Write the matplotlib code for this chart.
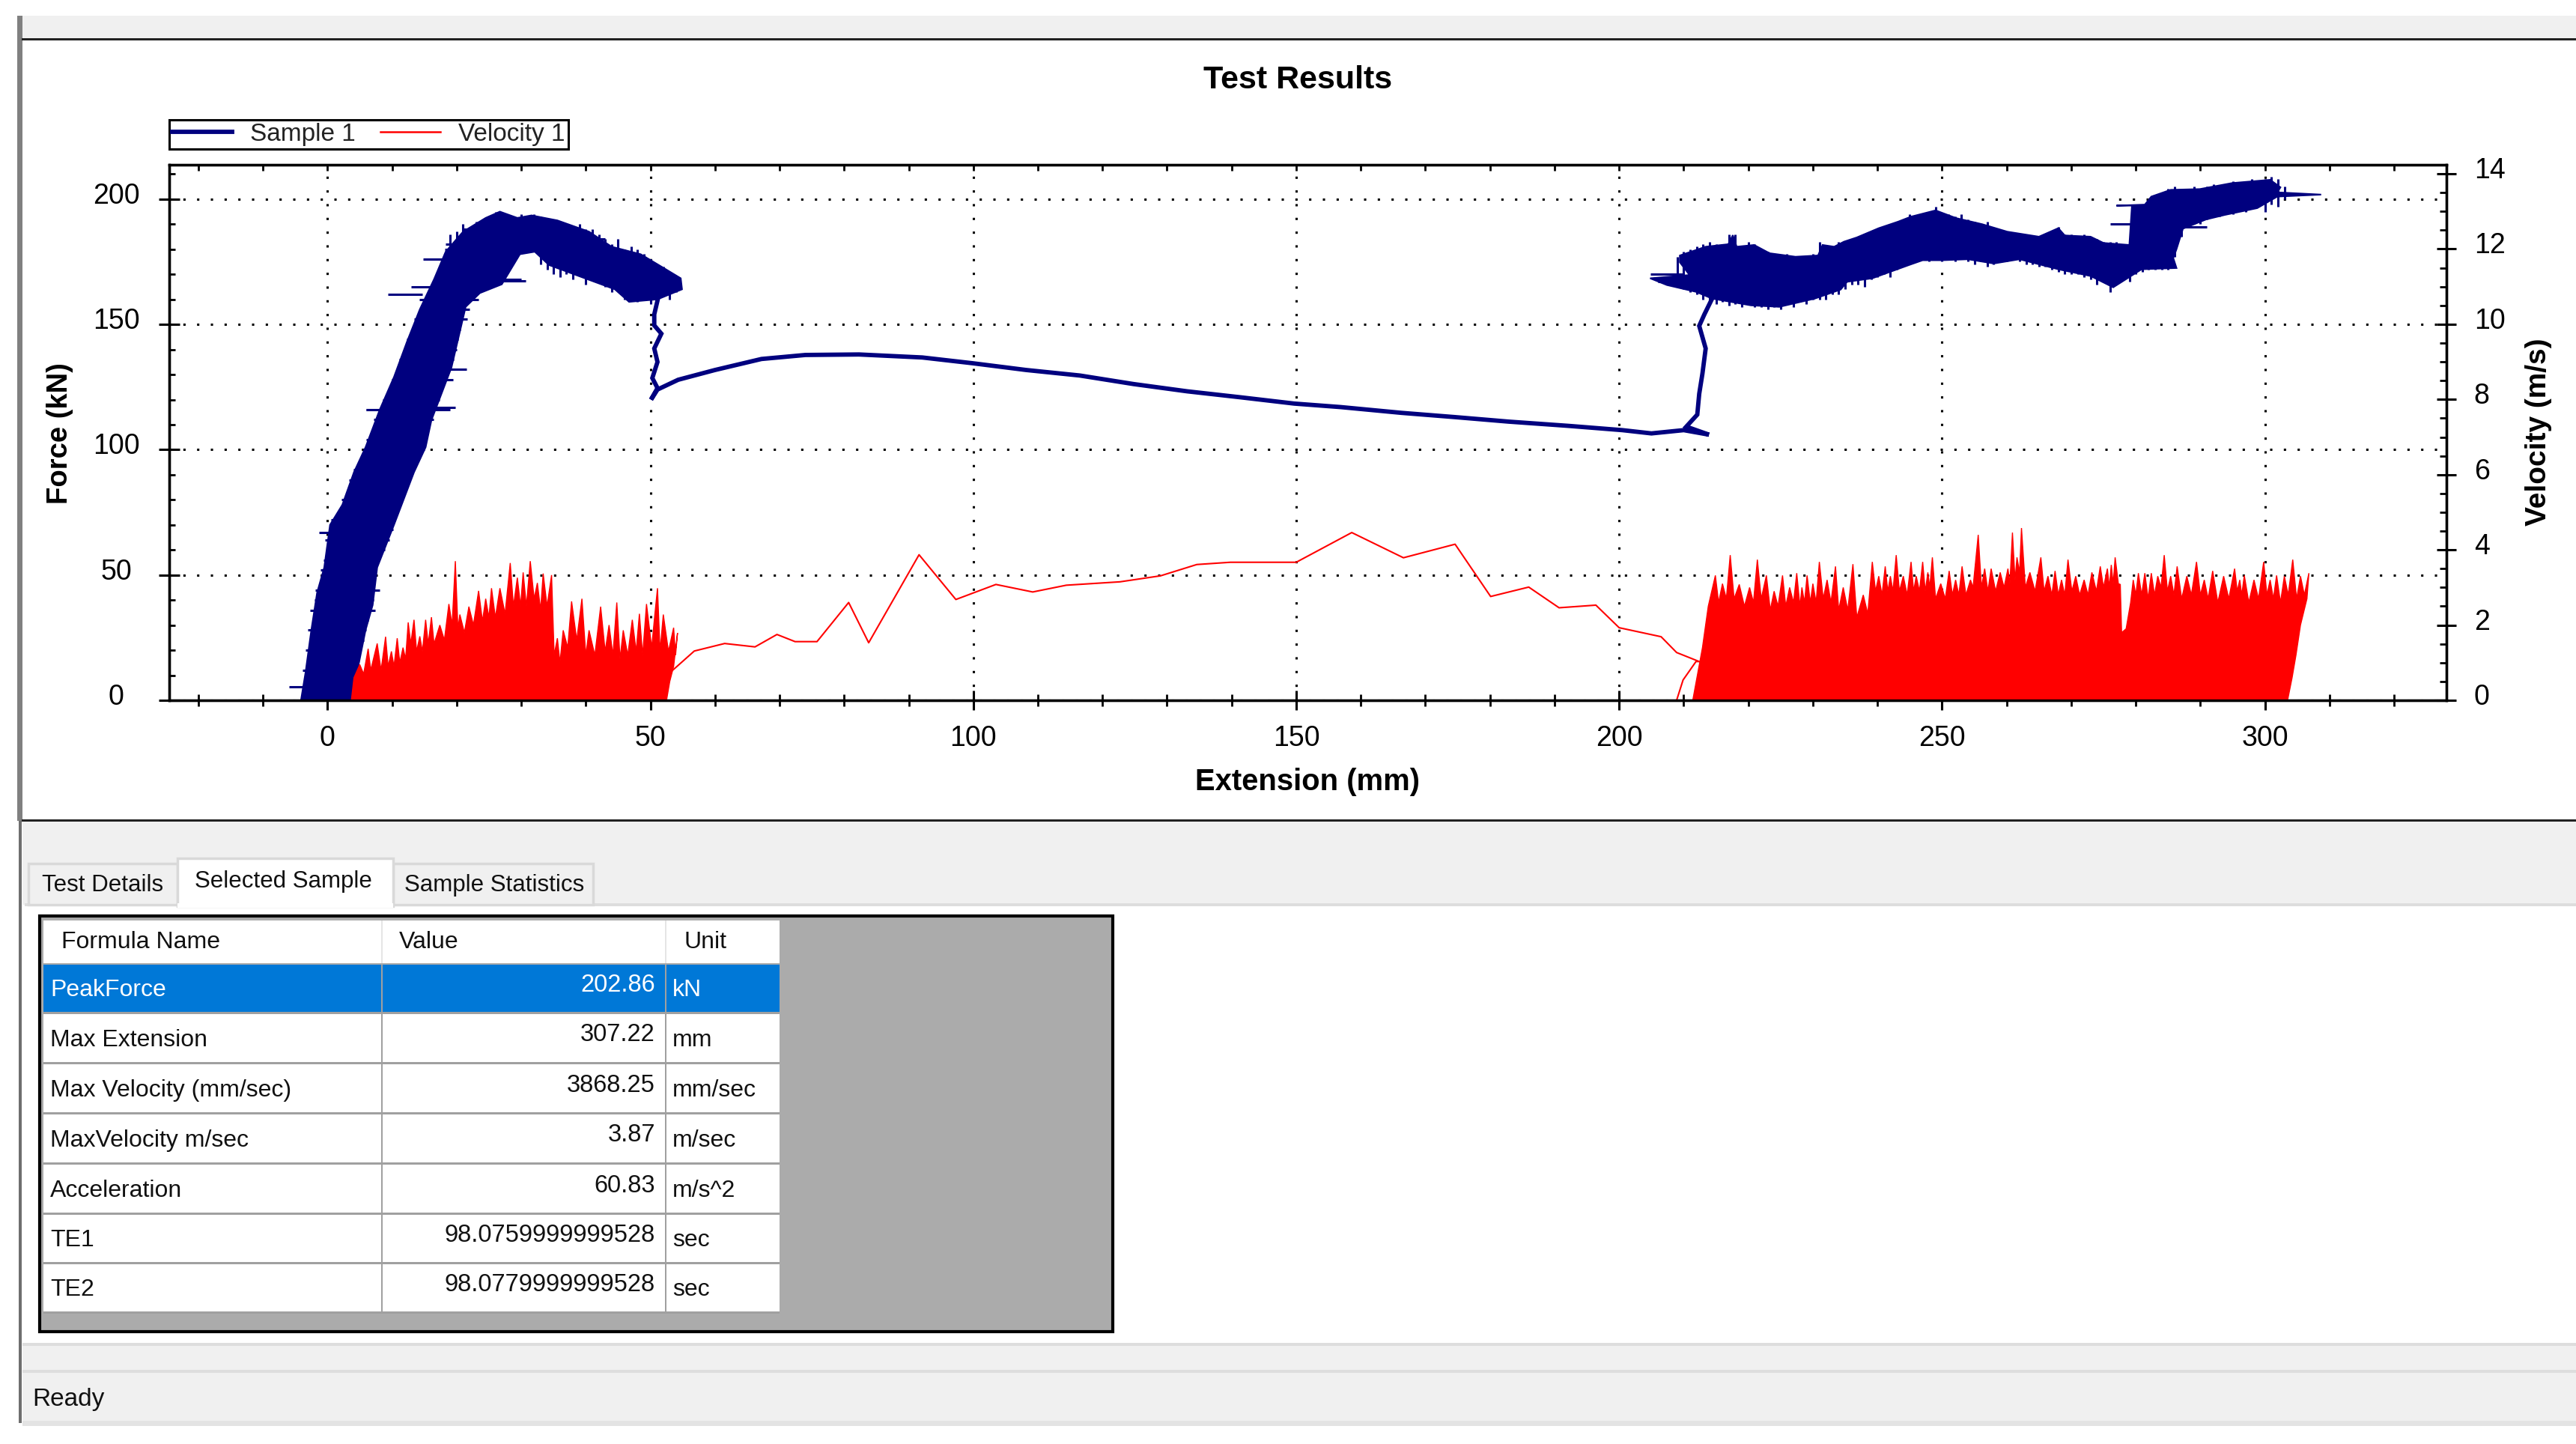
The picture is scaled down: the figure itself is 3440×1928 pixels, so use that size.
import matplotlib
matplotlib.use("Agg")
import matplotlib.pyplot as plt
from matplotlib.lines import Line2D
from matplotlib.patches import Rectangle
from matplotlib.transforms import ScaledTranslation

plt.rcParams["font.family"] = ["Liberation Sans", "DejaVu Sans"]

W, H = 3440, 1928
NAVY = "#00007F"
RED = "#FF0000"

# force: the thick noisy regions, outline
rise_x = [-4.1, -3.4, -2.5, -1.6, -0.5, 0.4, 2.3, 4.1, 5.9, 8.1, 10.3, 12.3, 14.3, 16.5, 18.3, 21.0, 24.5, 26.7,
          29.4, 31.6, 35.6, 40.5, 44.0, 48.5, 52.0, 54.7, 54.9, 51.1, 46.7, 44.5, 38.7, 34.3, 32.1, 29.8, 27.0,
          23.6, 21.4, 19.2, 16.1, 15.2, 13.4, 10.3, 7.7, 7.0, 5.9, 3.7]
rise_f = [0, 11, 28, 43, 53, 70, 78, 91, 101, 116, 129, 143, 156, 168, 179, 187, 192.5, 195,
          192.5, 193.5, 191.5, 187, 181, 178, 172.6, 168.4, 164, 160, 159, 164, 169.5, 173.7, 179, 178, 166,
          162.5, 157, 132.8, 111.8, 101, 91, 70, 53, 38, 28, 0]
plateau_x = [204.8, 210.9, 209.4, 209.4, 213.4, 216.9, 217.6, 218.2, 220.9, 223.3, 227.3, 230.8, 231.5, 233.3, 234.8,
             236.8, 240.2, 243.2, 245.2, 249.0, 252.2, 256.2, 260.1, 265.0, 268.0, 269.0, 273.0, 275.0, 279.0, 279.4,
             277.0, 281.4, 282.4, 285.4, 289.9, 294.9, 300.8, 302.4, 301.9, 308.7, 301.9, 298.8, 293.8, 290.9, 287.3,
             286.3, 285.8, 286.3, 280.9, 276.5, 273.0, 268.0, 262.0, 258.0, 254.0, 250.0, 247.0, 245.0, 239.2, 235.3,
             234.3, 230.3, 224.8, 220.4, 214.4, 211.9, 207.4]
plateau_f = [168.4, 169.7, 174.8, 177.5, 181, 182, 185.6, 181, 181.7, 178.4, 177, 177.5, 181.7, 181, 183,
             184.7, 188.4, 191, 193, 195.5, 192.4, 190, 187, 185, 188.4, 185.5, 185, 182.5, 181.7, 197.4,
             197.4, 197.8, 201, 203.7, 204, 206.4, 207.7, 204.7, 202.7, 201.8, 201, 196.4, 193.7, 191.9, 188.2,
             180, 176.5, 172.5, 172, 164.8, 169.3, 172, 176, 174.3, 176, 175.6, 175.6, 173.8, 168.4, 167,
             163.9, 160.3, 157, 157.6, 160.3, 163, 165.7]

# rough edges of the rising part: extent at each force level
row_f = [4, 8, 12, 16, 20, 24, 28, 32, 36, 40, 44, 48, 52, 56, 60, 64, 68, 72, 76, 80, 84, 88, 92, 96, 100, 104, 108,
         112, 116, 120, 124, 128, 132, 136, 140, 144, 148, 152, 156, 160, 164, 168, 172, 176, 180]
row_left = [-4.0, -3.6, -3.9, -3.1, -3.4, -2.8, -3.0, -2.4, -2.7, -2.0, -1.9, -1.0, -1.1, -0.6, -0.2, -0.4, 0.3, 0.6,
            1.7, 2.2, 3.2, 3.3, 4.0, 5.2, 5.5, 6.0, 7.0, 7.2, 6.0, 8.6, 9.6, 9.9, 10.9, 11.1, 12.2, 12.2, 13.2, 13.4,
            14.4, 14.2, 15.9, 17.0, 17.8, 14.9, 18.2]
row_right = [4.2, 4.4, 4.6, 4.9, 5.0, 5.6, 6.0, 6.3, 7.4, 7.2, 8.1, 7.4, 7.0, 7.9, 8.9, 9.6, 10.2, 10.5,
             10.4, 11.3, 11.9, 12.7, 13.0, 13.2, 15.0, 14.8, 15.0, 16.4, 19.0, 17.4, 17.6, 19.4, 19.7, 19.6, 20.0, 20.2,
             20.6, 21.7, 22.0, 23.4, 22.9, 30.0, 26.0, 28.7, 30.2]

# rough edges of the arch: extent at each extension
arch_x = [19, 20, 21, 22, 23, 24, 25, 26, 27, 28, 29, 30, 31, 32, 33, 34, 35, 36, 37, 38, 39, 40, 41, 42, 43, 44, 45,
          46, 47, 48, 49, 50, 51, 52, 53, 54]
arch_top = [186, 187, 190, 188, 191, 192, 192, 195, 194, 192, 192, 194, 192, 194, 193, 191, 192, 191, 188, 189, 190,
            188, 188, 186, 184, 182, 184, 180, 181, 180, 178, 176, 172, 173, 170, 167]
arch_low = [178, 178, 178, 178, 178, 178, 178, 178, 178, 180, 180, 180, 180, 180, 174, 172, 170, 169, 170, 168, 170,
            166, 168, 170, 165, 163, 166, 160, 162, 159, 164, 158, 159, 162, 160, 163]

# rough edges of the second plateau
plat_x = [209, 210, 211, 212, 213, 214, 215, 216, 217, 218, 219, 220, 221, 222, 223, 224, 225, 226, 227, 228, 229,
          230, 231, 232, 233, 234, 235, 236, 237, 238, 239, 240, 241, 242, 243, 244, 245, 246, 247, 248, 249, 250,
          251, 252, 253, 254, 255, 256, 257, 258, 259, 260, 261, 262, 263, 264, 265, 266, 267, 268, 269, 270, 271,
          272, 273, 274, 275, 276, 277, 278, 279, 280, 281, 282, 283, 284, 285, 286, 287, 288, 289, 290, 291, 292,
          293, 294, 295, 296, 297, 298, 299, 300, 301, 302, 303]
plat_top = [177, 179, 180, 181, 182, 183, 182, 182, 186, 186, 181, 183, 182, 180, 179, 178, 177, 178, 177, 177, 176,
            178, 183, 180, 181, 183, 182, 184, 185, 186, 186, 188, 189, 189, 191, 192, 194, 192, 194, 193, 197, 193,
            194, 193, 194, 192, 191, 190, 191, 188, 188, 187, 186, 186, 186, 185, 184, 186, 186, 189, 186, 186, 185,
            186, 185, 184, 183, 183, 183, 182, 182, 198, 198, 199, 201, 202, 204, 205, 203, 204, 205, 204, 205, 206,
            205, 206, 207, 206, 207, 208, 207, 208, 209, 208, 205]
plat_low = [165, 164, 163, 162, 160, 159, 158, 159, 157.5, 158, 157, 158, 157, 157, 156, 157, 156, 158, 157, 159, 158,
            160, 160, 160, 162, 162, 164, 166, 166, 165, 168, 169, 170, 169, 172, 173, 174, 175, 176, 175, 176, 175,
            176, 175, 176, 175, 174, 175, 173, 174, 175, 175, 176, 175, 174, 174, 173, 173, 172, 171, 170, 170, 170,
            169, 168, 166, 169, 163, 166, 168, 167, 170, 171, 172, 172, 172, 172, 177, 185, 190, 190, 190, 192, 193,
            193, 194, 194, 196, 195, 196, 197, 195, 198, 197, 200]

# short horizontal spikes sticking out of the noisy regions
spur_f = [162, 165, 176, 182, 188, 116, 117, 132, 67, 5.5, 167.4, 184, 167, 170, 190, 189]
spur_x0 = [9.4, 13.0, 14.8, 18.3, 21.0, 6.0, 15.0, 19.0, -1.3, -6.0, 25.4, 40.5, 206.0, 204.8, 276.0, 287.0]
spur_x1 = [14.7, 17.4, 19.2, 21.0, 24.0, 9.0, 19.8, 21.5, 1.5, -3.5, 30.7, 43.0, 211.0, 210.0, 279.4, 291.0]

# force: the single trace between the noisy regions
force_x = [51.1, 50.6, 50.6, 51.7, 50.6, 51.1, 50.3, 51.1, 50.1, 51.1, 54.3, 60.0, 67.2, 74.0, 82.3, 92.1, 99.9,
           108.2, 116.5, 124.8, 133.1, 141.4, 149.7, 156.9, 166.3, 174.6, 182.9, 192.2, 200.5, 205.0, 210.0, 213.9,
           210.4, 212.1, 212.4, 212.9, 213.4, 212.4, 213.2, 214.4]
force_f = [159.5, 154, 149.6, 146.3, 140.4, 135, 128.6, 124.6, 120, 124, 127.9, 131.8, 136.2, 137.8, 138, 136.8, 134.5,
           131.8, 129.6, 126.2, 123.3, 120.9, 118.4, 117, 114.7, 113, 111.2, 109.5, 107.8, 106.5, 107.8, 106,
           109.2, 114, 122.3, 130.4, 140.4, 149.4, 154, 160.3]

# velocity: the single trace between the spiky regions
vel_x = [52.2, 53.0, 56.8, 61.5, 66.2, 69.6, 72.4, 75.8, 80.7, 83.8, 91.6, 97.3, 103.5, 109.2, 114.4, 122.7, 129.0,
         134.6, 139.8, 150.0, 158.6, 166.6, 174.6, 180.1, 186.0, 190.7, 196.4, 200.0, 206.5, 208.9, 212.4, 211.9,
         209.9, 208.9]
vel_v = [0, 0.73, 1.31, 1.51, 1.42, 1.75, 1.56, 1.56, 2.6, 1.53, 3.87, 2.68, 3.08, 2.88, 3.06, 3.15, 3.31,
         3.61, 3.67, 3.67, 4.46, 3.79, 4.15, 2.76, 3.01, 2.46, 2.53, 1.93, 1.69, 1.27, 1.03, 1.03,
         0.54, 0]

# velocity: saw-tooth outline of the two spiky regions
teeth_left_x = [3.7, 4.1, 5.0, 5.6, 6.3, 6.7, 7.7, 8.3, 9.0, 9.4, 9.9, 10.3, 10.8, 11.2, 11.7, 12.1, 12.5, 12.9, 13.4,
                13.8, 14.3, 14.7, 15.2, 15.6, 16.1, 16.5, 17.4, 18.1, 18.8, 19.3, 19.8, 20.2, 20.5, 21.2, 21.9, 22.6,
                23.4, 24.0, 24.5, 25.0, 25.4, 26.0, 26.7, 27.5, 28.3, 28.8, 29.4, 29.9, 30.3, 30.8, 31.4, 32.0, 32.5,
                33.0, 33.4, 34.0, 34.7, 35.1, 35.6, 36.0, 36.5, 37.2, 37.8, 38.6, 39.4, 40.0, 40.5, 41.4, 42.3, 43.0,
                43.6, 44.2, 44.8, 45.3, 45.8, 46.5, 47.2, 47.8, 48.3, 48.8, 49.4, 50.2, 50.7, 51.1, 51.5, 52.0, 52.8,
                53.6, 53.9, 54.2, 53.6, 53.0, 52.5]
teeth_left_v = [0, 0.6, 0.95, 0.7, 1.37, 0.8, 1.51, 0.8, 1.69, 0.9, 1.3, 0.9, 1.65, 1.0, 1.4, 1.1, 2.07, 1.5, 2.14,
                1.3, 1.7, 1.3, 2.14, 1.5, 2.21, 1.5, 2.0, 1.6, 2.56, 2.0, 3.7, 1.9, 2.28, 1.8, 2.49, 2.0,
                2.91, 2.1, 2.7, 2.2, 2.98, 2.2, 2.98, 2.3, 3.65, 2.5, 3.26, 2.5, 3.4, 2.5, 3.7, 2.7, 3.12,
                2.4, 3.37, 2.5, 3.33, 1.2, 1.65, 1.0, 1.86, 1.4, 2.63, 1.6, 2.7, 1.2, 1.86, 1.2, 2.49, 1.3,
                2.0, 1.2, 2.6, 1.1, 1.86, 1.2, 2.14, 1.3, 2.3, 1.2, 2.56, 1.4, 2.3, 2.98, 1.3, 2.28, 1.3,
                1.93, 1.2, 1.79, 0.9, 0.5, 0]
teeth_right_x = [211.4, 212.9, 213.8, 214.9, 215.4, 216.0, 216.6, 217.2, 217.8, 218.6, 219.4, 220.2, 220.8, 221.4, 222.0,
                 222.8, 223.4, 224.0, 224.6, 225.3, 225.8, 226.4, 227.0, 227.5, 228.0, 228.3, 228.7, 229.1, 229.6,
                 230.0, 230.5, 231.0, 231.6, 232.2, 232.8, 233.5, 234.0, 234.7, 235.4, 236.2, 236.8, 237.8, 238.5,
                 239.2, 239.7, 240.2, 240.7, 241.2, 241.6, 242.0, 242.4, 242.9, 243.4, 244.0, 244.6, 245.2, 245.6,
                 246.0, 246.5, 247.0, 247.4, 247.8, 248.1, 248.5, 249.0, 249.8, 250.5, 251.1, 251.6, 252.1, 252.6,
                 253.1, 253.7, 254.4, 254.8, 255.6, 256.1, 256.6, 257.1, 257.6, 258.3, 259.0, 259.6, 260.2, 260.5,
                 260.9, 261.3, 261.6, 262.0, 262.3, 262.9, 263.6, 264.4, 265.3, 265.8, 266.4, 267.0, 267.5, 268.0,
                 268.5, 269.0, 269.5, 270.1, 270.7, 271.3, 272.0, 272.6, 273.2, 273.9, 274.5, 275.0, 275.6, 275.9,
                 276.2, 276.5, 276.8, 277.3, 277.6, 277.8, 278.5, 279.2, 279.6, 280.0, 280.4, 280.9, 281.4, 281.9,
                 282.4, 282.9, 283.4, 283.9, 284.4, 284.9, 285.4, 285.9, 286.4, 287.1, 287.9, 288.6, 289.4, 290.0,
                 290.6, 291.2, 291.9, 292.7, 293.6, 294.4, 295.3, 295.7, 296.1, 296.4, 296.8, 297.5, 298.3, 299.0,
                 299.8, 300.3, 300.8, 301.3, 301.8, 302.4, 303.0, 303.6, 304.3, 304.9, 305.5, 306.1, 306.8, 306.5,
                 305.5, 304.8, 304.2, 303.5]
teeth_right_v = [0, 1.4, 2.5, 3.32, 2.6, 3.1, 2.7, 3.86, 2.7, 3.08, 2.5, 3.0, 2.6, 3.74, 2.7,
                 3.32, 2.4, 2.9, 2.5, 3.32, 2.5, 3.0, 2.6, 3.38, 2.5, 3.0, 2.6, 3.32, 2.6,
                 3.1, 2.6, 3.68, 2.7, 3.2, 2.6, 3.56, 2.4, 3.0, 2.4, 3.62, 2.2, 2.8, 2.3,
                 3.68, 2.9, 3.3, 2.8, 3.56, 2.9, 3.3, 2.9, 3.86, 2.9, 3.3, 2.8, 3.68, 2.9,
                 3.3, 2.9, 3.68, 2.9, 3.4, 3.0, 3.8, 2.7, 3.1, 2.7, 3.44, 2.8, 3.2, 2.8,
                 3.56, 2.8, 3.2, 3.0, 4.4, 3.0, 3.5, 2.9, 3.5, 2.9, 3.4, 3.0, 3.5, 3.1,
                 4.46, 3.2, 3.8, 3.4, 4.58, 3.0, 3.4, 2.9, 3.8, 2.9, 3.3, 2.8, 3.44, 2.8,
                 3.2, 2.8, 3.74, 2.9, 3.3, 2.8, 3.2, 2.8, 3.4, 2.9, 3.56, 3.0, 3.5, 3.0,
                 3.6, 3.1, 3.8, 3.1, 3.08, 1.8, 1.9, 2.6, 3.2, 2.8, 3.38, 2.8, 3.38, 2.7,
                 3.38, 2.8, 3.3, 3.0, 3.86, 2.9, 3.3, 2.8, 3.56, 2.7, 3.3, 2.8, 3.68, 2.8,
                 3.2, 2.7, 3.44, 2.6, 3.3, 2.7, 3.5, 2.9, 3.2, 2.8, 3.32, 2.6, 3.2, 2.7,
                 3.68, 2.8, 3.2, 2.7, 3.32, 2.6, 3.3, 2.8, 3.74, 2.7, 3.3, 2.8, 3.38, 2.7,
                 2.0, 1.2, 0.6, 0]

x_major = [0, 50, 100, 150, 200, 250, 300]
x_minor = [-20, -10, 10, 20, 30, 40, 60, 70, 80, 90, 110, 120, 130, 140, 160, 170, 180, 190,
           210, 220, 230, 240, 260, 270, 280, 290, 310, 320]
force_major = [0, 50, 100, 150, 200]
force_minor = [10, 20, 30, 40, 60, 70, 80, 90, 110, 120, 130, 140, 160, 170, 180, 190, 210]
vel_major = [0, 2, 4, 6, 8, 10, 12, 14]
vel_minor = [0.5, 1, 1.5, 2.5, 3, 3.5, 4.5, 5, 5.5, 6.5, 7, 7.5, 8.5, 9, 9.5, 10.5, 11, 11.5, 12.5, 13, 13.5]

# result table
table_header = ["Formula Name", "Value", "Unit"]
formula_names = ["PeakForce", "Max Extension", "Max Velocity (mm/sec)", "MaxVelocity m/sec", "Acceleration", "TE1", "TE2"]
formula_values = ["202.86", "307.22", "3868.25", "3.87", "60.83", "98.0759999999528", "98.0779999999528"]
formula_units = ["kN", "mm", "mm/sec", "m/sec", "m/s^2", "sec", "sec"]
tab_names = ["Test Details", "Selected Sample", "Sample Statistics"]

fig = plt.figure(figsize=(W / 100, H / 100), dpi=100, facecolor="white")

# window chrome, in pixels
ui = fig.add_axes([0, 0, 1, 1])
ui.set_xlim(0, W)
ui.set_ylim(H, 0)
ui.axis("off")


def box(x0, y0, x1, y1, color, edge="none", lw=0):
    ui.add_patch(Rectangle((x0, y0), x1 - x0, y1 - y0, facecolor=color, edgecolor=edge, linewidth=lw))


box(30, 21, W, 52, "#F0F0F0")
box(30, 1096, W, 1208, "#F0F0F0")
box(30, 1795, W, 1897, "#F0F0F0")
box(30, 1897, W, 1904, "#E3E3E3")
box(30, 1793, W, 1797, "#DDDDDD")
box(30, 1829, W, 1833, "#DDDDDD")
box(33, 1206, W, 1210, "#DDDDDD")
box(23, 21, 30, 1096, "#808080")
box(25, 1096, 29, 1900, "#6E6E6E")
box(29, 51, W, 54, "#222222")
box(29, 1094, W, 1097, "#222222")

box(38, 1153, 237, 1208, "#F0F0F0", "#D9D9D9", 2.5)
box(525, 1153, 792, 1208, "#F0F0F0", "#D9D9D9", 2.5)
box(237, 1146, 525, 1210, "white", "#D9D9D9", 2.5)
box(237, 1206, 525, 1212, "white")
for name, tx, ty in zip(tab_names, [56, 260, 540], [1182, 1177, 1182]):
    ui.text(tx, ty, name, fontsize=22.5, va="center", color="#111111")

box(53, 1223, 1486, 1778, "#ABABAB", "black", 3)
col_x = [58, 510, 889, 1041]
header_bottom = 1286
row_bottoms = [1352, 1419, 1486, 1553, 1620, 1686, 1752]
box(col_x[0], 1229, col_x[3], header_bottom, "white")
for cx in col_x[1:3]:
    box(cx - 1, 1229, cx + 1, header_bottom, "#E5E5E5")
for name, tx in zip(table_header, [82, 533, 913]):
    ui.text(tx, 1258, name, fontsize=23, va="center", color="#111111")
tops = [header_bottom] + row_bottoms[:-1]
for i, (top, bottom) in enumerate(zip(tops, row_bottoms)):
    selected = i == 0
    box(col_x[0], top + 2, col_x[3], bottom, "#0078D7" if selected else "white")
    box(col_x[0], bottom - 1, col_x[3], bottom + 2, "#A0A0A0")
    for cx in col_x[1:3]:
        box(cx - 1, top + 2, cx + 1, bottom, "#A0A0A0")
    color = "white" if selected else "#111111"
    ui.text(67, bottom - 30, formula_names[i], fontsize=23, va="center", color=color)
    ui.text(875, bottom - 37, formula_values[i], fontsize=23.5, va="center", ha="right", color=color)
    ui.text(898, bottom - 30, formula_units[i], fontsize=23, va="center", color=color)
ui.text(43, 1868, "Ready", fontsize=24, va="center", color="#111111")

# the chart
left, right, top_px, bottom_px = 226, 3267, 220, 935
ax = fig.add_axes([left / W, 1 - bottom_px / H, (right - left) / W, (bottom_px - top_px) / H])
ax.patch.set_alpha(0)
ax.set_xlim(-24.5, 328.1)
ax.set_ylim(0, 213.7)

ax.grid(which="major", color="black", linestyle=(0, (1, 5)), linewidth=2.2)
ax.set_axisbelow(True)

ax.fill(rise_x, rise_f, color=NAVY, linewidth=1.5)
ax.fill(plateau_x, plateau_f, color=NAVY, linewidth=1.5)
ax.hlines(row_f, row_left, row_right, color=NAVY, linewidth=2.2)
ax.vlines(arch_x, arch_low, arch_top, color=NAVY, linewidth=2.2)
ax.vlines(plat_x, plat_low, plat_top, color=NAVY, linewidth=2.2)
ax.hlines(spur_f, spur_x0, spur_x1, color=NAVY, linewidth=2.2)
ax.plot(force_x, force_f, color=NAVY, linewidth=4.2, solid_joinstyle="miter")

ax2 = ax.twinx()
ax2.set_ylim(0, 14.24)
ax2.fill(teeth_left_x, teeth_left_v, color=RED, linewidth=1.0)
ax2.fill(teeth_right_x, teeth_right_v, color=RED, linewidth=1.0)
ax2.plot(vel_x, vel_v, color=RED, linewidth=1.5)

for spine_ax in (ax, ax2):
    for spine in spine_ax.spines.values():
        spine.set_linewidth(2.4)
        spine.set_color("black")

ax.set_xticks(x_major)
ax.set_xticks(x_minor, minor=True)
ax.set_yticks(force_major)
ax.set_yticks(force_minor, minor=True)
ax2.set_yticks(vel_major)
ax2.set_yticks(vel_minor, minor=True)

ax.tick_params(axis="x", which="major", direction="inout", length=19, width=2.2, labelsize=27, pad=14)
ax.tick_params(axis="x", which="minor", direction="inout", length=12, width=2.0)
ax.tick_params(axis="y", which="major", direction="inout", length=20, width=2.2, labelsize=27, pad=41)
ax.tick_params(axis="y", which="minor", direction="in", length=6, width=2.0)
ax2.tick_params(axis="y", which="major", direction="inout", length=19, width=2.2, labelsize=27, pad=17)
ax2.tick_params(axis="y", which="minor", direction="in", length=6.5, width=2.0)

lift = ScaledTranslation(0, 8 / 100, fig.dpi_scale_trans)
for label in ax.get_yticklabels():
    label.set_horizontalalignment("center")
    label.set_transform(label.get_transform() + lift)
for label in ax2.get_yticklabels():
    label.set_transform(label.get_transform() + lift)

top_axis = ax.secondary_xaxis("top")
top_axis.set_xticks(x_major + x_minor)
top_axis.tick_params(axis="x", direction="in", length=6, width=2.0, labelsize=0, labeltop=False)
top_axis.spines["top"].set_visible(False)

fig.text(1733 / W, 1 - 107 / H, "Test Results", fontsize=31, fontweight="bold", ha="center", va="center")
fig.text(1746 / W, 1 - 1044 / H, "Extension (mm)", fontsize=28.8, fontweight="bold", ha="center", va="center")
fig.text(80 / W, 1 - 579 / H, "Force (kN)", fontsize=27.5, fontweight="bold", rotation=90, ha="center", va="center")
fig.text(3390 / W, 1 - 577 / H, "Velocity (m/s)", fontsize=28, fontweight="bold", rotation=90, ha="center", va="center")

handles = [Line2D([], [], color=NAVY, linewidth=4.2), Line2D([], [], color=RED, linewidth=1.8)]
legend = ax.legend(handles, ["Sample 1", "Velocity 1"], ncol=2, loc="lower left",
                   bbox_to_anchor=(0, 1.03), borderaxespad=0, fontsize=24, fancybox=False, framealpha=1,
                   edgecolor="black", handlelength=2.4, handletextpad=0.72, columnspacing=1.0,
                   borderpad=0.12, labelcolor="#222222")
legend.get_frame().set_linewidth(2.2)
legend.set_zorder(20)

fig.savefig("out.png", dpi=100, facecolor="white")
plt.close(fig)
